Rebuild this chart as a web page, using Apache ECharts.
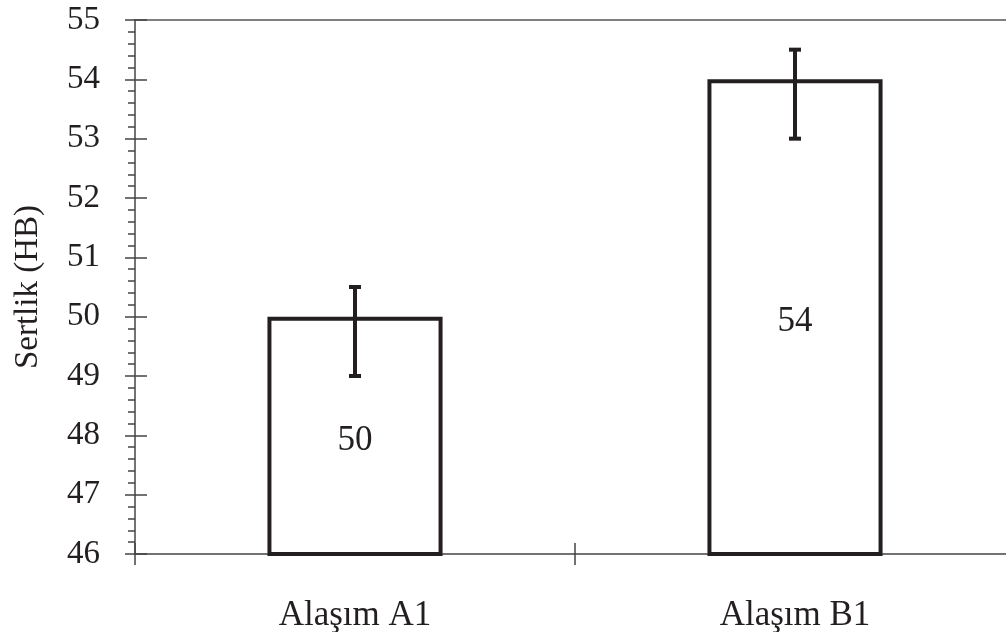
<!DOCTYPE html>
<html><head><meta charset="utf-8">
<script src="https://cdn.jsdelivr.net/npm/echarts@6/dist/echarts.min.js"></script>
<style>html,body{margin:0;padding:0;background:#fff}#c{width:1006px;height:632px}</style>
</head><body><div id="c"></div>
<script>
var categories = ['Alaşım A1', 'Alaşım B1'];
var values = [50, 54];
var errLow = [49, 53];
var errHigh = [50.5, 54.5];
var yMin = 46, yMax = 55;

var FONT = '"Liberation Serif", "DejaVu Serif", serif';
var DARK = '#231f20';
var chart = echarts.init(document.getElementById('c'));
chart.setOption({
  animation: false,
  grid: {left: 135, right: -9, top: 20, bottom: 78, outerBoundsMode: 'none', containLabel: false},
  xAxis: [{
    type: 'category', data: categories, position: 'bottom',
    axisLine: {lineStyle: {color: '#444', width: 1.5}},
    axisTick: {show: true, length: 11, lineStyle: {color: '#444', width: 1.5}},
    axisLabel: {fontFamily: FONT, fontSize: 35, color: DARK, margin: 44}
  }, {
    type: 'category', data: categories, position: 'bottom',
    axisLine: {show: false},
    axisTick: {show: true, inside: true, length: 11, lineStyle: {color: '#444', width: 1.5}},
    axisLabel: {show: false}
  }, {
    type: 'category', data: categories, position: 'top',
    axisLine: {show: true, lineStyle: {color: '#555', width: 1.5}},
    axisTick: {show: false}, axisLabel: {show: false}
  }],
  yAxis: [{
    type: 'value', min: yMin, max: yMax, interval: 1,
    name: 'Sertlik (HB)', nameLocation: 'middle', nameGap: 90,
    nameTextStyle: {fontFamily: FONT, fontSize: 33, color: DARK},
    axisLine: {show: true, lineStyle: {color: '#444', width: 1.5}},
    axisTick: {show: true, length: 10, lineStyle: {color: '#444', width: 1.5}},
    minorTick: {show: true, splitNumber: 5, length: 7, lineStyle: {color: '#444', width: 1.5}},
    splitLine: {show: false},
    axisLabel: {fontFamily: FONT, fontSize: 33, color: DARK, margin: 35}
  }, {
    type: 'value', min: yMin, max: yMax, interval: 1, position: 'left',
    axisLine: {show: false},
    axisTick: {show: true, inside: true, length: 12, lineStyle: {color: '#444', width: 1.5}},
    splitLine: {show: false}, axisLabel: {show: false}
  }],
  series: [{
    type: 'bar', data: values, barWidth: '39.8%', xAxisIndex: 0, yAxisIndex: 0,
    itemStyle: {color: '#fff', borderColor: DARK, borderWidth: 4},
    label: {show: true, position: 'inside', offset: [0, 4], fontFamily: FONT, fontSize: 35, color: DARK}
  }, {
    type: 'custom', xAxisIndex: 0, yAxisIndex: 0, z: 5,
    data: categories.map(function(c, i){ return [i, errLow[i], errHigh[i]]; }),
    renderItem: function(params, api) {
      var lo = api.coord([api.value(0), api.value(1)]);
      var hi = api.coord([api.value(0), api.value(2)]);
      var x = lo[0], hw = 6;
      var st = {stroke: DARK, lineWidth: 4, fill: null};
      return {type: 'group', children: [
        {type: 'line', shape: {x1: x, y1: lo[1], x2: x, y2: hi[1]}, style: st},
        {type: 'line', shape: {x1: x - hw, y1: lo[1], x2: x + hw, y2: lo[1]}, style: st},
        {type: 'line', shape: {x1: x - hw, y1: hi[1], x2: x + hw, y2: hi[1]}, style: st}
      ]};
    }
  }]
});
</script></body></html>
